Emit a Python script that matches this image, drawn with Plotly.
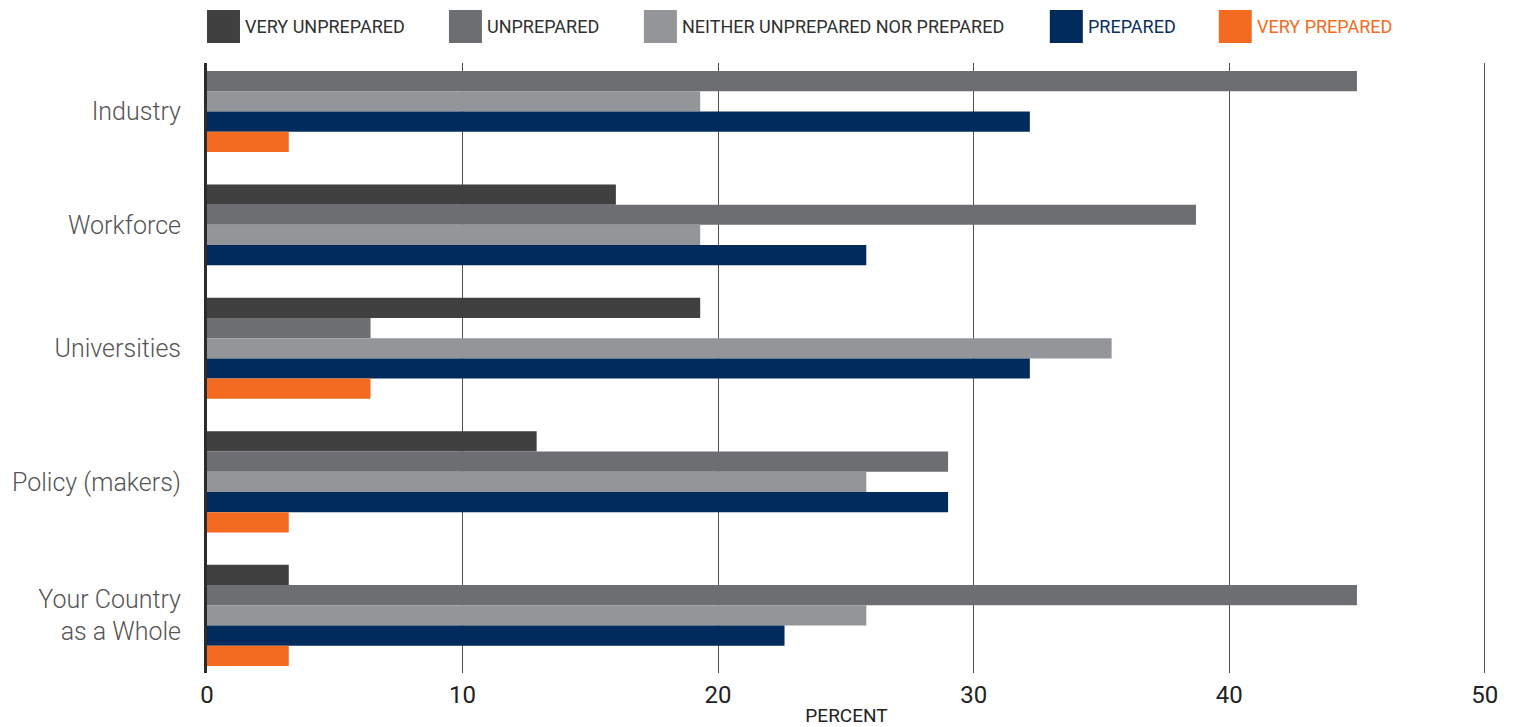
import plotly.graph_objects as go

categories = ["Industry", "Workforce", "Universities", "Policy (makers)", "Your Country<br>as a Whole"]
series_names = ["VERY UNPREPARED", "UNPREPARED", "NEITHER UNPREPARED NOR PREPARED", "PREPARED", "VERY PREPARED"]
very_unprepared = [0, 16.0, 19.3, 12.9, 3.2]
unprepared = [45.0, 38.7, 6.4, 29.0, 45.0]
neither = [19.3, 19.3, 35.4, 25.8, 25.8]
prepared = [32.2, 25.8, 32.2, 29.0, 22.6]
very_prepared = [3.2, 0, 6.4, 3.2, 3.2]
colors = ["#404040", "#6d6e71", "#939598", "#002b5c", "#f26b21"]
legend_text_colors = ["#2f2f2f", "#2f2f2f", "#2f2f2f", "#0b2f5e", "#f26b21"]
x_ticks = [0, 10, 20, 30, 40, 50]

series = [very_unprepared, unprepared, neither, prepared, very_prepared]

# compute bar slots: zero-valued bars are omitted and the group is compacted
GAP = 1.6
pos = 0.0
bar_y = [[None] * len(categories) for _ in series]
centers = []
for ci in range(len(categories)):
    start = pos
    for si, s in enumerate(series):
        if s[ci] > 0:
            bar_y[si][ci] = pos + 0.5
            pos += 1
    centers.append((start + pos) / 2)
    pos += GAP
total = pos - GAP

fig = go.Figure()
for si, s in enumerate(series):
    xs = [v for v, y in zip(s, bar_y[si]) if y is not None]
    ys = [y for y in bar_y[si] if y is not None]
    fig.add_trace(go.Bar(
        x=xs, y=ys, orientation="h", width=1.0, name=series_names[si],
        marker=dict(color=colors[si], line=dict(width=0)), showlegend=False,
        hovertemplate=series_names[si] + ": %{x}<extra></extra>"))

# plot area geometry (pixels)
XMAX = 50.05
L, T, B = 207, 63, 673
R = 207 + 1278 * XMAX / 50
W, H = 1515, 727

def xp(px):
    return (px - L) / (R - L)

def yp(py):
    return (B - py) / (B - T)

legend_x = [207, 449, 644, 1050, 1219]
shapes = []
annotations = []
for i, name in enumerate(series_names):
    x0 = legend_x[i]
    shapes.append(dict(type="rect", xref="paper", yref="paper",
                       x0=xp(x0), x1=xp(x0 + 33), y0=yp(43), y1=yp(10),
                       fillcolor=colors[i], line=dict(width=0), layer="above"))
    annotations.append(dict(xref="paper", yref="paper", x=xp(x0 + 36), y=yp(26.5),
                            xanchor="left", yanchor="middle", showarrow=False,
                            text=name, font=dict(family="Roboto", size=18, color=legend_text_colors[i])))

fig.update_layout(
    width=W, height=H,
    margin=dict(l=L, r=W - R, t=T, b=H - B, pad=0),
    paper_bgcolor="white", plot_bgcolor="white",
    barmode="overlay",
    shapes=shapes, annotations=annotations,
    font=dict(family="Roboto", color="#222"),
    xaxis=dict(range=[0, XMAX], tickvals=x_ticks, showgrid=True, gridcolor="#505050", gridwidth=1,
               zeroline=False, showline=False, ticks="", automargin=False,
               tickfont=dict(family="Roboto", size=24, color="#222"),
               ticklabelstandoff=5,
               title=dict(text="PERCENT", font=dict(family="Roboto", size=19, color="#222"), standoff=3)),
    yaxis=dict(range=[total + 0.35, -0.4], tickvals=centers, ticktext=categories,
               showgrid=False, zeroline=False, showline=True, linecolor="#2b2b2b", linewidth=3,
               ticks="", ticklabelstandoff=18, automargin=False,
               tickfont=dict(family="Roboto", size=25, color="#555", weight=300)),
)

fig.write_html("out.html")
